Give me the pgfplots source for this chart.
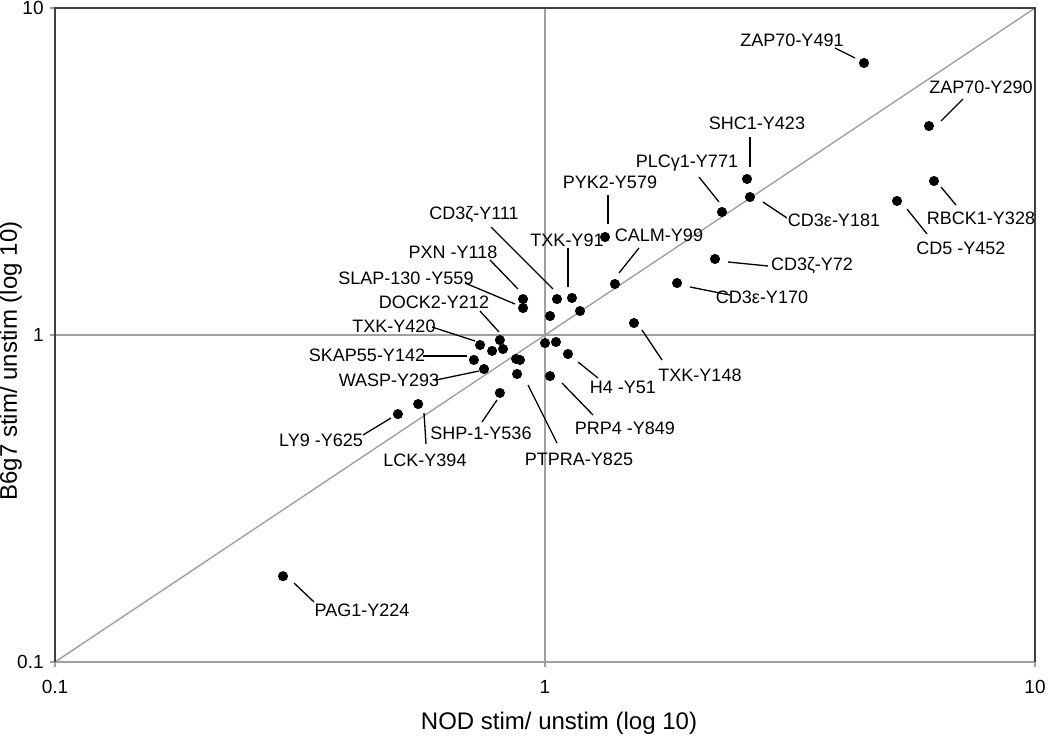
\documentclass[border=0pt]{standalone}
\usepackage{pgfplots}
\pgfplotsset{compat=1.18}
\usepackage{fontspec}
\setmainfont{Liberation Sans}
\definecolor{gridgray}{HTML}{A0A0A0}
\definecolor{boxdark}{HTML}{404040}
\begin{document}
\begin{tikzpicture}
\begin{axis}[
  scale only axis,
  width=490pt, height=327pt,
  xmode=log, ymode=log,
  xmin=0.1, xmax=10, ymin=0.1, ymax=10,
  xtick={0.1,1,10}, ytick={0.1,1,10},
  xticklabels={0.1,1,10}, yticklabels={0.1,1,10},
  minor tick length=0pt,
  minor tick style={draw=none},
  tick pos=left,
  tick align=outside,
  major tick length=2.5pt,
  tick style={gridgray, line width=0.6pt},
  tick label style={font=\fontsize{9.5}{11}\selectfont, inner sep=0pt},
  xticklabel style={anchor=north, yshift=-6.5pt},
  yticklabel style={anchor=east, xshift=-3pt},
  axis line style={draw=none},
  clip=false,
]
% reference lines
\addplot[gridgray, line width=0.7pt] coordinates {(0.1,0.1) (10,10)};
\addplot[gridgray, line width=0.7pt] coordinates {(1,0.1) (1,10)};
\addplot[gridgray, line width=0.7pt] coordinates {(0.1,1) (10,1)};
% frame
\draw[gridgray, line width=0.8pt] (rel axis cs:0,0) -- (rel axis cs:1,0);
\draw[boxdark, line width=1pt] (rel axis cs:0,0) -- (rel axis cs:0,1) -- (rel axis cs:1,1) -- (rel axis cs:1,0);
% data
\addplot[only marks, mark=*, mark size=2.3pt, black] coordinates {
(4.477,6.79) (6.077,4.356) (2.584,3.000) (2.620,2.642) (2.297,2.378)
(6.221,2.957) (5.229,2.570) (2.223,1.708) (1.860,1.442) (1.389,1.432)
(1.326,1.994) (1.135,1.298) (1.058,1.288) (1.179,1.184) (1.024,1.143)
(0.902,1.288) (0.902,1.209) (1.519,1.088) (0.809,0.965) (0.737,0.932)
(0.780,0.894) (0.821,0.906) (0.716,0.839) (0.751,0.787) (0.873,0.845)
(0.889,0.839) (1.000,0.945) (1.053,0.952) (1.114,0.875) (1.024,0.749)
(0.877,0.760) (0.809,0.665) (0.501,0.573) (0.551,0.615) (0.292,0.183)
};
\end{axis}
\begin{scope}[x=0.5pt, y=-0.5pt, xshift=-27.5pt, yshift=331pt]
\tikzset{lab/.style={font=\fontsize{9}{10}\selectfont, inner sep=0pt, anchor=center}}
\tikzset{ld/.style={black, line width=0.65pt}}
\node[lab] at (792,40) {ZAP70-Y491};     \draw[ld] (835,48) -- (855,58);
\node[lab] at (981,87) {ZAP70-Y290};     \draw[ld] (963,99) -- (941,121);
\node[lab] at (757,123) {SHC1-Y423};     \draw[ld] (750,137) -- (750,167);
\node[lab] at (687,163) {PLCγ1-Y771};    \draw[ld] (699,177) -- (719,202);
\node[lab] at (834,220) {CD3ε-Y181};     \draw[ld] (763,202) -- (787,218);
\node[lab] at (981,218) {RBCK1-Y328};    \draw[ld] (941,187) -- (956,205);
\node[lab] at (961,248) {CD5 -Y452};     \draw[ld] (907,209) -- (927,234);
\node[lab] at (812,266) {CD3ζ-Y72};      \draw[ld] (728,262) -- (768,266);
\node[lab] at (762,297) {CD3ε-Y170};     \draw[ld] (690,287) -- (730,295);
\node[lab] at (659,235) {CALM-Y99};      \draw[ld] (639,248) -- (619,273);
\node[lab] at (610,182) {PYK2-Y579};     \draw[ld] (608,195) -- (608,224);
\node[lab] at (567,240) {TXK-Y91};       \draw[ld] (568,248) -- (568,287);
\node[lab] at (474,215) {CD3ζ-Y111};     \draw[ld] (491,227) -- (553,289);
\node[lab] at (453,252) {PXN -Y118};     \draw[ld] (490,260) -- (518,289);
\node[lab] at (406,278) {SLAP-130 -Y559};\draw[ld] (465,283) -- (515,304);
\node[lab] at (434,302) {DOCK2-Y212};    \draw[ld] (480,311) -- (499,332);
\node[lab] at (394,326) {TXK-Y420};      \draw[ld] (432,327) -- (475,341);
\node[lab] at (367,355) {SKAP55-Y142};   \draw[ld] (423,356) -- (467,356);
\node[lab] at (389,380) {WASP-Y293};     \draw[ld] (436,380) -- (479,371);
\node[lab] at (321,440) {LY9 -Y625};     \draw[ld] (363,435) -- (391,418);
\node[lab] at (425,460) {LCK-Y394};      \draw[ld] (424,413) -- (426,444);
\node[lab] at (481,433) {SHP-1-Y536};    \draw[ld] (482,422) -- (497,400);
\node[lab] at (579,459) {PTPRA-Y825};    \draw[ld] (528,385) -- (557,443);
\node[lab] at (625,428) {PRP4 -Y849};    \draw[ld] (562,383) -- (593,415);
\node[lab] at (623,387) {H4 -Y51};       \draw[ld] (578,362) -- (598,378);
\node[lab] at (700,375) {TXK-Y148};      \draw[ld] (642,330) -- (662,360);
\node[lab] at (362,610) {PAG1-Y224};     \draw[ld] (294,583) -- (314,602);
% axis titles
\node[font=\fontsize{12}{14}\selectfont, inner sep=0pt, anchor=base] at (559,729) {NOD stim/ unstim (log 10)};
\node[font=\fontsize{12}{14}\selectfont, inner sep=0pt, rotate=90, anchor=base] at (17,361) {B6g7 stim/ unstim (log 10)};
\pgfresetboundingbox
\path[use as bounding box] (0,0) rectangle (1050,736);
\end{scope}
\end{tikzpicture}
\end{document}
